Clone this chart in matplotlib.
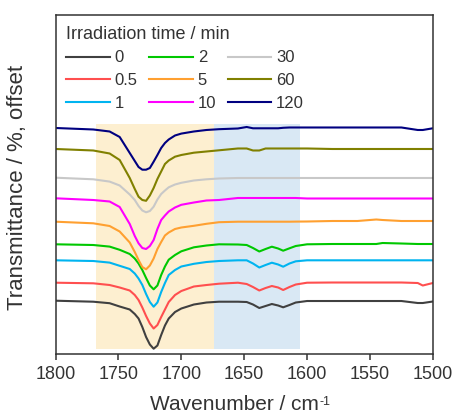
import numpy as np
import matplotlib
matplotlib.use("Agg")
import matplotlib.pyplot as plt

plt.rcParams['font.family'] = ['Liberation Sans', 'DejaVu Sans']

# wavenumber grid (cm-1) shared by all spectra
wavenumber = [1800, 1770, 1757, 1749, 1741, 1737, 1734, 1731, 1728, 1725,
              1722, 1719, 1716, 1713, 1710, 1705, 1700, 1690, 1680, 1670,
              1655, 1648, 1643, 1638, 1633, 1628, 1623, 1619, 1614, 1609,
              1600, 1580, 1560, 1545, 1540, 1525, 1512, 1508, 1500]

# offset transmittance traces (a.u.), one per irradiation time
t_0 = [53.3, 52.3, 50.8, 47.5, 44.5, 40, 35.5, 27, 17, 9.5,
       5.3, 8.5, 19, 28.5, 35.5, 42, 45.5, 49.5, 51.5, 52.3,
       52.3, 52, 49.5, 46, 48, 50, 48.5, 46.7, 49, 51.5,
       53, 53, 53, 53, 53, 53, 51, 51, 52.5]
t_05 = [71.3, 70.7, 69, 66.5, 63.5, 59, 54, 46.5, 38, 30.5,
        25.5, 29, 37, 44.5, 52, 59, 63, 67.5, 69, 70.3,
        71.3, 70, 67, 63.5, 66, 68, 66.5, 64, 67, 69.5,
        71.3, 71.5, 71.5, 71.5, 71.5, 71.5, 71, 68.5, 71]
t_1 = [93.7, 93, 91.4, 88.2, 85, 80.5, 75.5, 69, 60, 52,
       47.3, 51.5, 62, 71, 79, 84, 87.5, 90.2, 92, 93,
       93.7, 93.7, 90.5, 86.5, 89, 91.3, 89.5, 87.3, 90.5, 92.7,
       93.7, 93.7, 93.7, 93.7, 93.7, 93.7, 93.7, 93.7, 93.7]
t_2 = [109.7, 109, 107.4, 104.2, 100, 95.5, 90.5, 84, 76, 68.5,
       64.7, 68.5, 79, 87.5, 94.3, 99, 102.7, 106.7, 108.5, 109.7,
       109.5, 109, 106, 102.5, 105, 107.3, 105.5, 103.3, 105.7, 108,
       109.7, 110, 110, 110, 111, 110.5, 110, 110, 110]
t_5 = [132.3, 130.7, 128, 122.5, 111.5, 102, 94, 87, 84.7, 88.5,
       95.5, 105, 112, 118.5, 121.5, 125, 126.5, 128.2, 130.2, 131.8,
       132.3, 132.3, 132.3, 132.3, 132.3, 132.3, 132.3, 132.3, 132.3, 132.4,
       132.5, 133, 133, 134.5, 134, 133, 133, 133, 133]
t_10 = [155.7, 154, 152.5, 147, 130, 118, 110.7, 106, 105, 108,
        114, 125, 134, 138.5, 142.5, 146.5, 149.2, 151.5, 153.5, 154,
        156, 156, 156, 156, 156, 156, 156, 156, 156, 156,
        155.5, 155.5, 155.5, 155.5, 155.5, 155.5, 155.5, 155.5, 155.5]
t_30 = [176.3, 174.7, 172.4, 168.5, 159.5, 154, 148, 143.5, 141.7, 143,
        147.3, 154.5, 160, 163.5, 166.7, 169.5, 171.2, 173.5, 174.7, 175.5,
        176, 176, 176, 176, 176, 176, 176, 176, 176, 176,
        176, 176, 176, 176, 176, 176, 176, 176, 176]
t_60 = [205, 203.5, 200.5, 194, 176, 165, 157.3, 154, 153.2, 158.5,
        166, 175, 182.5, 190, 193.5, 197.3, 199, 201.3, 202.5, 203.7,
        205.5, 205.5, 203.5, 203.5, 205.5, 205.5, 205.5, 205.5, 205.5, 205.5,
        205.5, 205, 205, 205, 205, 205, 205, 205, 205]
t_120 = [226, 224.5, 222.5, 217, 201, 193, 187, 184.3, 184.3, 186,
         192.3, 199, 206, 211, 214.5, 218.5, 220.4, 222.5, 224, 224.8,
         225.5, 227, 225.7, 225.7, 225.7, 225.7, 225.7, 226.2, 226.5, 226.5,
         226.5, 226.5, 226.5, 226.5, 226.5, 226.5, 224, 224, 225.7]

labels = ['0', '0.5', '1', '2', '5', '10', '30', '60', '120']
traces = [t_0, t_05, t_1, t_2, t_5, t_10, t_30, t_60, t_120]
colors = ['#404040', '#ff4f4f', '#00b4f0', '#00c800', '#ffa030',
          '#ff00ff', '#c8c8c8', '#808000', '#000080']

# highlighted bands (cm-1)
band_co = (1768, 1674)
band_cc = (1674, 1606)
band_y = (5, 230)

txt = '#333333'

fig = plt.figure(figsize=(4.59, 4.16), dpi=100)
ax = fig.add_axes([0.121, 0.149, 0.822, 0.815])

ax.fill_between(band_co, band_y[0], band_y[1], color='#fdefd0', lw=0, zorder=0)
ax.fill_between(band_cc, band_y[0], band_y[1], color='#d9e8f4', lw=0, zorder=0)

for lab, tr, c in zip(labels, traces, colors):
    ax.plot(wavenumber, tr, color=c, lw=1.5, label=lab)

ax.set_xlim(1800, 1500)
ax.set_ylim(0, 339)
ax.set_xticks([1800, 1750, 1700, 1650, 1600, 1550, 1500])
ax.set_yticks([])
ax.tick_params(axis='x', direction='out', length=4, width=1.1, pad=4.5,
               labelsize=13, colors=txt)
for s in ax.spines.values():
    s.set_linewidth(1.1)
    s.set_color(txt)

ax.set_xlabel('Wavenumber / cm', fontsize=15, color=txt)
ax.xaxis.set_label_coords(0.474, -0.12)
ax.set_ylabel('Transmittance / %, offset', fontsize=16, color=txt)
ax.yaxis.set_label_coords(-0.073, 0.49)

leg = ax.legend(ncol=3, loc='upper left', bbox_to_anchor=(0.0, 1.0),
                frameon=False, fontsize=12, title='Irradiation time / min',
                title_fontsize=13, alignment='left', handlelength=2.6,
                handletextpad=0.3, columnspacing=0.7, labelspacing=0.46,
                borderpad=0.15)
for t in leg.get_texts():
    t.set_color(txt)
leg.get_title().set_color(txt)

# superscript -1 after "cm" (plain hyphen, small)
fig.canvas.draw()
bb = ax.xaxis.label.get_window_extent()
W, H = fig.bbox.width, fig.bbox.height
fig.text((bb.x1 + 1) / W, (bb.y1 - 1) / H, '-1', fontsize=9, color=txt,
         ha='left', va='top')

fig.savefig('out.png', dpi=100)
